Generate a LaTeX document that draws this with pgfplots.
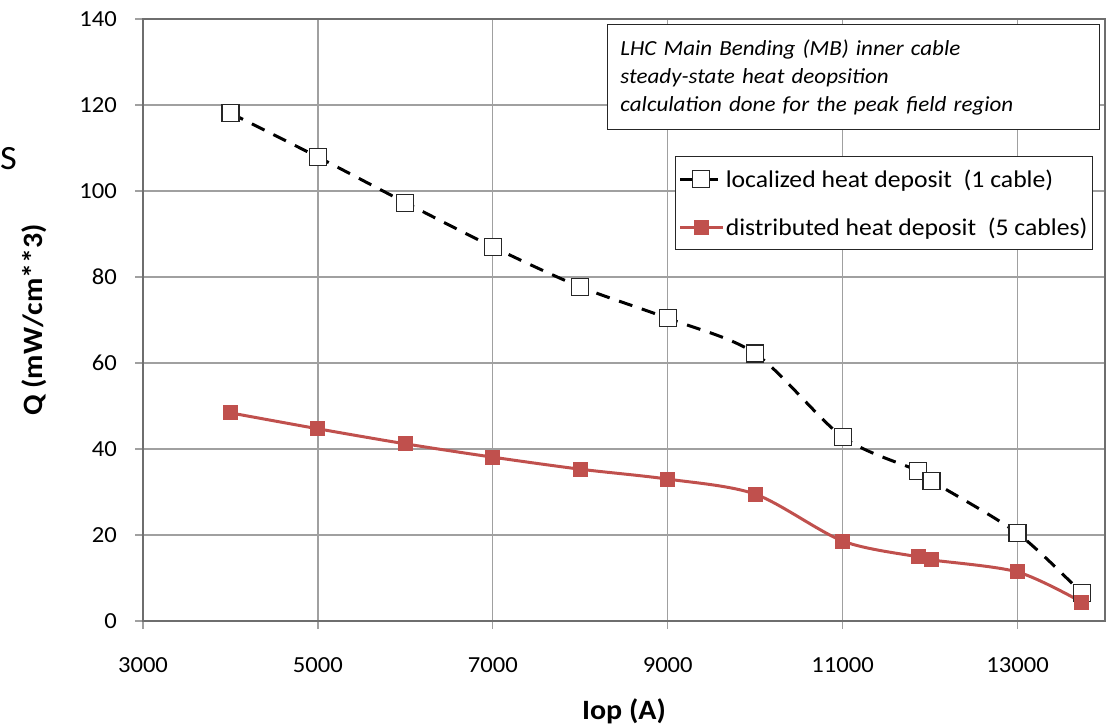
\documentclass[border=0pt]{standalone}
\usepackage{pgfplots}
\pgfplotsset{compat=1.18}
\usepackage{fontspec}
\setmainfont{Carlito}[FakeStretch=1.07]
\definecolor{exred}{HTML}{C0504D}
\definecolor{gridc}{HTML}{A0A0A0}
\definecolor{framec}{HTML}{6E6E6E}
\begin{document}
\begin{tikzpicture}
\path[use as bounding box] (-143pt,-104pt) rectangle (964pt,621pt);
\begin{axis}[
  scale only axis, width=962pt, height=602pt,
  xmin=3000, xmax=14000, ymin=0, ymax=140,
  xtick={3000,5000,...,13000}, ytick={0,20,...,140},
  scaled ticks=false,
  /pgf/number format/set thousands separator={},
  /pgf/number format/assume math mode=true,
  grid=major, grid style={gridc, line width=1.2pt},
  axis line style={framec, line width=1.3pt},
  tick pos=left, tick align=outside, major tick length=8pt,
  tick style={gridc, line width=1.2pt},
  ticklabel style={font=\fontsize{23}{28}\selectfont},
  yticklabel style={inner sep=0pt, anchor=east},
  xticklabel style={inner sep=0pt, anchor=north},
  yticklabel shift=18pt,
  xticklabel shift=28pt,
  xlabel={\textbf{Iop (A)}},
  ylabel={\textbf{Q (mW/cm**3)}},
  label style={font=\fontsize{28}{32}\selectfont},
  xlabel style={at={(axis description cs:0.5,-0.1628)}, anchor=base, inner sep=0pt},
  ylabel style={at={(axis description cs:-0.104,0.5)}, anchor=base, inner sep=0pt},
  legend style={at={(rel axis cs:0.9875,0.7724)}, anchor=north east,
    draw=black!85, line width=1pt, fill=white,
    font=\fontsize{24}{29}\selectfont,
    inner xsep=3pt, inner ysep=11pt, row sep=25pt,
    nodes={inner sep=2pt}},
  legend cell align=left,
  legend image code/.code={%
    \draw[mark repeat=2,mark phase=2,#1] plot coordinates {(0pt,0pt)(21pt,0pt)(42pt,0pt)};},
]
\addplot[black, line width=3pt, dash pattern=on 14pt off 10pt, smooth, tension=0.5,
  mark=square*, mark size=8.5pt,
  mark options={solid, fill=white, draw=black!85, line width=1.2pt}]
  coordinates {
  (4000,118.1) (5000,107.9) (6000,97.3) (7000,87.0) (8000,77.7) (9000,70.4)
  (10000,62.2) (11000,42.8) (11866,34.9) (12015,32.6) (13000,20.4) (13733,6.5)
  };
\addlegendentry{localized heat deposit\ \ (1 cable)}
\addplot[exred, line width=3pt, smooth, tension=0.5,
  mark=square*, mark size=6pt, mark options={fill=exred, draw=exred}]
  coordinates {
  (4000,48.4) (5000,44.7) (6000,41.2) (7000,38.1) (8000,35.3) (9000,33.0)
  (10000,29.5) (11000,18.6) (11866,14.9) (12015,14.2) (13000,11.4) (13733,4.4)
  };
\addlegendentry{distributed heat deposit\ \ (5 cables)}
\node[anchor=north west, draw=black!85, line width=1pt, fill=white,
  minimum width=492pt, minimum height=105pt, text width=466pt, align=left,
  inner xsep=13pt, inner ysep=13pt,
  font=\fontsize{21.5}{28}\selectfont\itshape]
  at (rel axis cs:0.4823,0.9917)
  {LHC Main Bending (MB) inner cable\\steady-state heat deopsition\\calculation done for the peak field region};
\end{axis}
\node[anchor=base west, inner sep=0pt, font=\fontsize{34}{40}\selectfont]
  at (-143pt,451pt) {S};
\end{tikzpicture}
\end{document}
